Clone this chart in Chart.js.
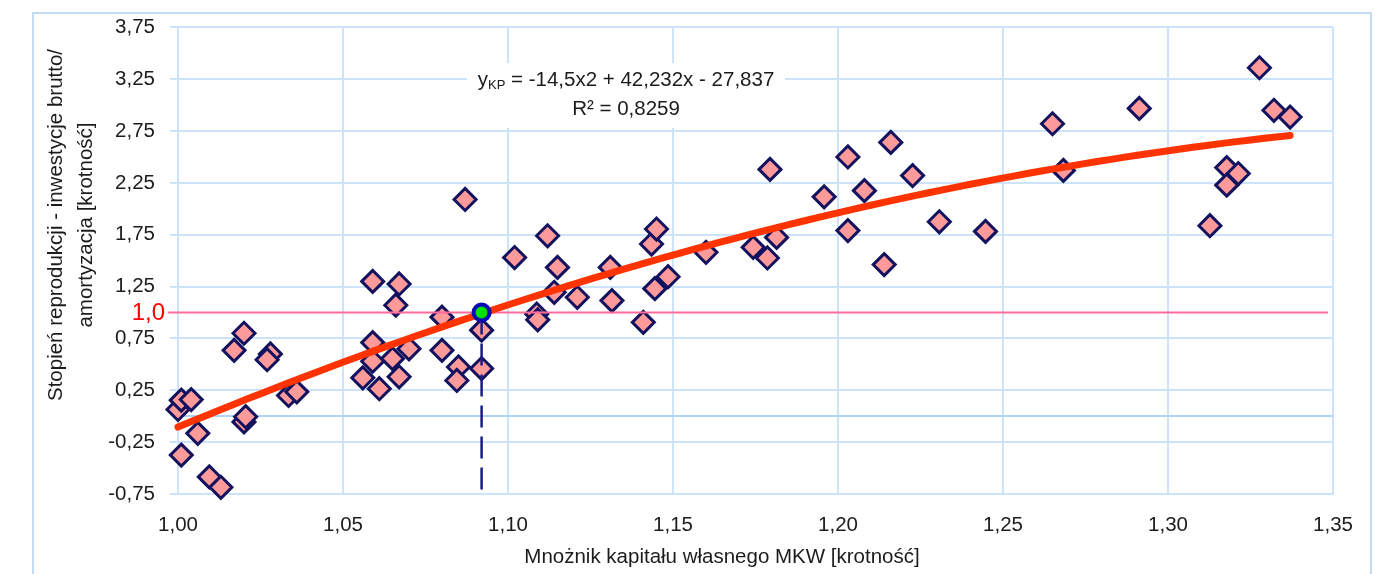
<!DOCTYPE html>
<html>
<head>
<meta charset="utf-8">
<title>Stopień reprodukcji a mnożnik kapitału własnego</title>
<script src="https://cdn.jsdelivr.net/npm/chart.js@4/dist/chart.umd.min.js"></script>
<style>
  html, body { margin: 0; padding: 0; background: #ffffff; }
  #wrap { width: 1386px; height: 574px; position: relative; overflow: hidden; }
  canvas { display: block; }
</style>
</head>
<body>
<div id="wrap"><canvas id="chart" width="1386" height="574"></canvas></div>
<script>
// Observations: equity multiplier (MKW) and reproduction ratio (gross investment / depreciation)
const mkwValues = [
  1.000, 1.001, 1.004, 1.006, 1.001, 1.0095, 1.013, 1.017, 1.020, 1.028,
  1.027, 1.020, 1.0205, 1.0335, 1.036, 1.059, 1.067, 1.066, 1.080, 1.087,
  1.092, 1.059, 1.070, 1.065, 1.059, 1.080, 1.056, 1.061, 1.067, 1.085,
  1.0845, 1.092, 1.102, 1.112, 1.115, 1.114, 1.121, 1.1087, 1.109, 1.131,
  1.1315, 1.141, 1.1445, 1.1485, 1.1435, 1.145, 1.160, 1.1743, 1.1786, 1.1814,
  1.1794, 1.1958, 1.203, 1.203, 1.208, 1.216, 1.2226, 1.214, 1.2307, 1.2447,
  1.265, 1.2683, 1.2913, 1.3277, 1.3321, 1.337, 1.3178, 1.3213, 1.3178, 1.3127
];
const reproValues = [
  0.065, 0.155, 0.160, -0.165, -0.375, -0.585, -0.685, 0.635, 0.800, 0.600,
  0.545, -0.055, -0.005, 0.200, 0.235, 1.300, 1.275, 1.070, 0.955, 2.090,
  0.830, 0.710, 0.650, 0.555, 0.530, 0.635, 0.370, 0.265, 0.380, 0.475,
  0.345, 0.460, 1.530, 1.740, 1.435, 1.195, 1.147, 0.985, 0.930, 1.435,
  1.115, 0.905, 1.230, 1.345, 1.660, 1.805, 1.580, 1.628, 1.526, 1.724,
  2.380, 2.115, 2.500, 1.790, 2.175, 2.640, 2.320, 1.462, 1.875, 1.782,
  2.820, 2.370, 2.968, 3.360, 2.950, 2.885, 2.397, 2.340, 2.228, 1.837
];

// Break-even point of the fitted curve (reproduction ratio = 1,0)
const breakEvenPoint = [1.092, 1.0];
const referenceLevel = 1.0;
const referenceSpan = [0.997, 1.3485];

// Quadratic trend y = a·x² + b·x + c, as printed on the chart
const trendCoefficients = [-14.5, 42.232, -27.837];
const trendRange = [1.0, 1.337];
const trendSamples = 80;

// Axis ticks
const xTickValues = [1.00, 1.05, 1.10, 1.15, 1.20, 1.25, 1.30, 1.35];
const xTickLabels = ['1,00', '1,05', '1,10', '1,15', '1,20', '1,25', '1,30', '1,35'];
const yTickValues = [-0.75, -0.25, 0.25, 0.75, 1.25, 1.75, 2.25, 2.75, 3.25, 3.75];
const yTickLabels = ['-0,75', '-0,25', '0,25', '0,75', '1,25', '1,75', '2,25', '2,75', '3,25', '3,75'];

// Texts
const xTitle = 'Mnożnik kapitału własnego MKW [krotność]';
const yTitleLines = ['Stopień reprodukcji - inwestycje brutto/', 'amortyzacja [krotność]'];
const equationParts = ['y', 'KP', ' = -14,5x2 + 42,232x - 27,837'];
const r2Text = 'R² = 0,8259';
const referenceLabel = '1,0';

const FONT = "'Liberation Sans', Arial, Helvetica, sans-serif";
const GRID = '#cde3fa';
const TEXT = '#1c1c1c';

// Assemble dataset points
const scatterPoints = mkwValues.map((x, i) => ({ x, y: reproValues[i] }));
const trendPoints = [];
for (let i = 0; i <= trendSamples; i++) {
  const x = trendRange[0] + (trendRange[1] - trendRange[0]) * i / trendSamples;
  const [a, b, c] = trendCoefficients;
  trendPoints.push({ x, y: a * x * x + b * x + c });
}
const referencePoints = referenceSpan.map(x => ({ x, y: referenceLevel }));
const dropPoints = [
  { x: breakEvenPoint[0], y: breakEvenPoint[1] },
  { x: breakEvenPoint[0], y: yTickValues[0] }
];

const decorations = {
  id: 'decorations',
  beforeDraw(chart) {
    const { ctx } = chart;
    ctx.save();
    ctx.fillStyle = '#ffffff';
    ctx.fillRect(0, 0, chart.width, chart.height);
    ctx.strokeStyle = '#c3dbf6';
    ctx.lineWidth = 2;
    ctx.strokeRect(33, 13, 1338, 620);
    ctx.restore();
  },
  beforeDatasetsDraw(chart) {
    const { ctx, chartArea: a, scales } = chart;
    ctx.save();
    // horizontal axis crossing at zero
    const y0 = Math.round(scales.y.getPixelForValue(0));
    ctx.strokeStyle = '#b0d3f6';
    ctx.lineWidth = 2;
    ctx.beginPath();
    ctx.moveTo(a.left, y0);
    ctx.lineTo(a.right, y0);
    ctx.stroke();

    // trend equation box
    const cx = 626;
    ctx.fillStyle = '#ffffff';
    ctx.fillRect(467, 63, 318, 65);
    ctx.fillStyle = TEXT;
    ctx.textBaseline = 'alphabetic';
    const mainFont = '20.5px ' + FONT;
    const subFont = '13px ' + FONT;
    ctx.font = mainFont;
    const w0 = ctx.measureText(equationParts[0]).width;
    const w2 = ctx.measureText(equationParts[2]).width;
    ctx.font = subFont;
    const w1 = ctx.measureText(equationParts[1]).width;
    let sx = cx - (w0 + w1 + w2) / 2;
    ctx.textAlign = 'left';
    ctx.font = mainFont;
    ctx.fillText(equationParts[0], sx, 86);
    ctx.font = subFont;
    ctx.fillText(equationParts[1], sx + w0, 89);
    ctx.font = mainFont;
    ctx.fillText(equationParts[2], sx + w0 + w1, 86);
    ctx.textAlign = 'center';
    ctx.fillText(r2Text, cx, 115);
    ctx.restore();
  },
  afterDraw(chart) {
    const { ctx, scales } = chart;
    ctx.save();
    ctx.fillStyle = TEXT;
    ctx.font = '20.5px ' + FONT;
    ctx.textAlign = 'center';
    ctx.textBaseline = 'alphabetic';
    // x axis title
    ctx.fillText(xTitle, 722, 563);
    // y axis title, two rotated lines
    const baselines = [62, 92];
    yTitleLines.forEach((line, i) => {
      ctx.save();
      ctx.translate(baselines[i], 225);
      ctx.rotate(-Math.PI / 2);
      ctx.fillText(line, 0, 0);
      ctx.restore();
    });
    // label of the reference level
    ctx.fillStyle = '#ff0000';
    ctx.font = '24px ' + FONT;
    ctx.textAlign = 'right';
    ctx.textBaseline = 'middle';
    ctx.fillText(referenceLabel, 165, scales.y.getPixelForValue(referenceLevel) + 1);
    ctx.restore();
  }
};

Chart.defaults.font.family = FONT;

new Chart(document.getElementById('chart'), {
  type: 'scatter',
  data: {
    datasets: [
      {
        label: 'obserwacje',
        data: scatterPoints,
        pointStyle: 'rectRot',
        pointRadius: 11,
        pointBorderWidth: 3,
        backgroundColor: '#ff9a9a',
        borderColor: '#12125e',
        clip: false,
        order: 5
      },
      {
        label: 'poziom 1,0',
        data: referencePoints,
        showLine: true,
        pointRadius: 0,
        borderColor: '#ff6b9a',
        borderWidth: 2,
        clip: false,
        order: 4
      },
      {
        label: 'trend',
        data: trendPoints,
        showLine: true,
        pointRadius: 0,
        borderColor: '#ff3300',
        borderWidth: 7,
        borderCapStyle: 'round',
        borderJoinStyle: 'round',
        clip: false,
        order: 3
      },
      {
        label: 'MKW progowy',
        data: dropPoints,
        showLine: true,
        pointRadius: 0,
        borderColor: '#1c1c86',
        borderWidth: 2.5,
        borderDash: [22, 9],
        clip: false,
        order: 2
      },
      {
        label: 'punkt progowy',
        data: [{ x: breakEvenPoint[0], y: breakEvenPoint[1] }],
        pointStyle: 'circle',
        pointRadius: 8,
        pointBorderWidth: 4,
        backgroundColor: '#00e000',
        borderColor: '#0a0ab4',
        clip: false,
        order: 1
      }
    ]
  },
  options: {
    responsive: false,
    animation: false,
    devicePixelRatio: 1,
    layout: { padding: { left: 0, right: 53, top: 26, bottom: 0 } },
    plugins: {
      legend: { display: false },
      tooltip: { enabled: false }
    },
    scales: {
      x: {
        type: 'linear',
        min: xTickValues[0],
        max: xTickValues[xTickValues.length - 1],
        afterFit(scale) { scale.height = 80; },
        afterBuildTicks(scale) { scale.ticks = xTickValues.map(v => ({ value: v })); },
        grid: { color: GRID, lineWidth: 2, drawTicks: false },
        border: { display: true, color: GRID, width: 2 },
        ticks: {
          padding: 19,
          color: TEXT,
          font: { size: 20.5, family: FONT },
          maxRotation: 0,
          autoSkip: false,
          callback: (v, i) => xTickLabels[i]
        }
      },
      y: {
        type: 'linear',
        min: yTickValues[0],
        max: yTickValues[yTickValues.length - 1],
        afterFit(scale) { scale.width = 178; },
        afterBuildTicks(scale) { scale.ticks = yTickValues.map(v => ({ value: v })); },
        grid: { color: GRID, lineWidth: 2, drawTicks: true, tickLength: 8 },
        border: { display: true, color: GRID, width: 2 },
        ticks: {
          padding: 15,
          color: TEXT,
          font: { size: 20.5, family: FONT },
          autoSkip: false,
          callback: (v, i) => yTickLabels[i]
        }
      }
    }
  },
  plugins: [decorations]
});
</script>
</body>
</html>
